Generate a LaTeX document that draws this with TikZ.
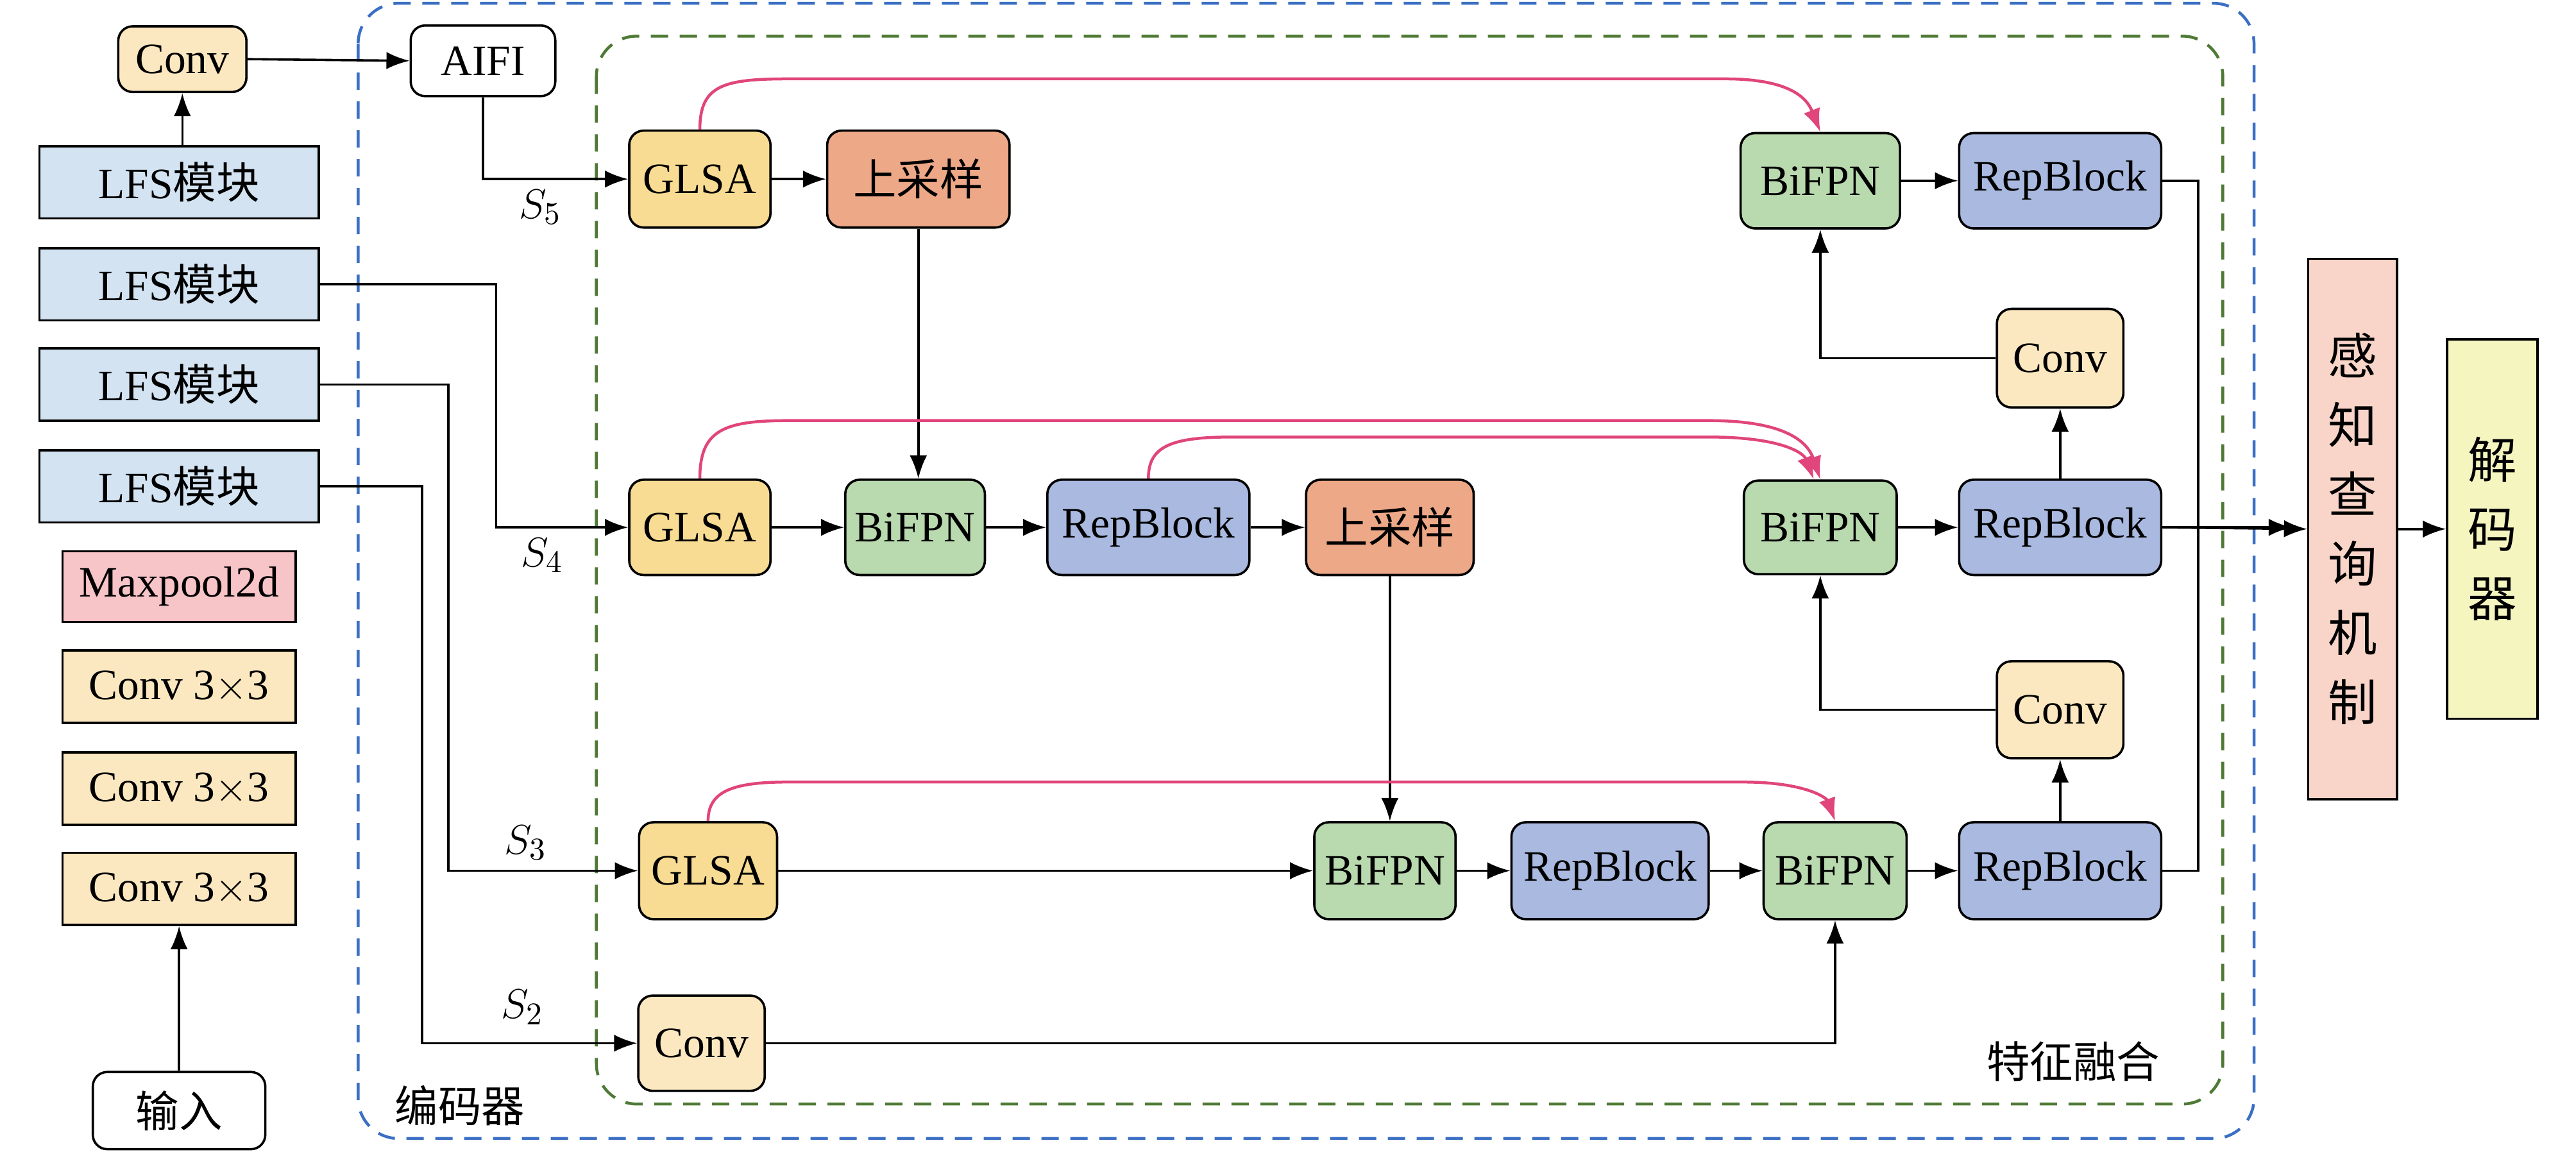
\documentclass[tikz,border=0pt]{standalone}
\usepackage{fontspec}
\setmainfont{Liberation Serif}
\newfontfamily\cjk{Noto Sans CJK SC}
\usetikzlibrary{arrows.meta,calc}
\definecolor{cy}{HTML}{F8DC94}
\definecolor{cly}{HTML}{FCE8C0}
\definecolor{csal}{HTML}{EDA887}
\definecolor{cgr}{HTML}{B9D9AE}
\definecolor{cbl}{HTML}{A9B9E0}
\definecolor{clb}{HTML}{D3E3F1}
\definecolor{cpk}{HTML}{F7C4C8}
\definecolor{cpeach}{HTML}{F8D5C8}
\definecolor{cyl}{HTML}{F5F5C0}
\definecolor{cdblue}{HTML}{3A6FC4}
\definecolor{cdgreen}{HTML}{4F7A35}
\definecolor{cmag}{HTML}{E0457B}
\begin{document}
\begin{tikzpicture}[x=0.02cm,y=-0.02cm,
  font=\fontsize{15}{18}\selectfont,
  box/.style={draw, line width=0.8pt, rounded corners=5pt, inner sep=0pt},
  sq/.style={draw, line width=0.8pt, inner sep=0pt},
  sz/.style n args={2}{minimum width=#1*0.02cm, minimum height=#2*0.02cm},
  ar/.style={line width=0.8pt,-{Latex[length=8pt,width=6pt]}},
  pk/.style={line width=1pt,cmag,-{Latex[length=8pt,width=6pt]}}]
\useasboundingbox (0,0) rectangle (1568,701);
% frames
\draw[cdblue, line width=1pt, dash pattern=on 6pt off 4pt, rounded corners=14pt] (218,2) rectangle (1372,693);
\draw[cdgreen, line width=1pt, dash pattern=on 6pt off 4pt, rounded corners=14pt] (363,22) rectangle (1353,672);
\node at (280,673) {\cjk 编码器};
\node at (1262,646) {\cjk 特征融合};
% left column
\node[box,fill=cly,sz={78}{40}] (c0) at (111,36) {Conv};
\node[sq,fill=clb,sz={170}{44}] (l1) at (109,111) {LFS{\cjk 模块}};
\node[sq,fill=clb,sz={170}{44}] (l2) at (109,173) {LFS{\cjk 模块}};
\node[sq,fill=clb,sz={170}{44}] (l3) at (109,234) {LFS{\cjk 模块}};
\node[sq,fill=clb,sz={170}{44}] (l4) at (109,296) {LFS{\cjk 模块}};
\node[sq,fill=cpk,sz={142}{43}] (mp) at (109,357) {Maxpool2d};
\node[sq,fill=cly,sz={142}{44}] (k1) at (109,418) {Conv 3$\times$3};
\node[sq,fill=cly,sz={142}{44}] (k2) at (109,480) {Conv 3$\times$3};
\node[sq,fill=cly,sz={142}{44}] (k3) at (109,541) {Conv 3$\times$3};
\node[box,fill=white,sz={105}{47}] (in) at (109,676) {\cjk 输入};
\draw[ar] (in.north) -- (k3.south);
\draw[ar] (l1.north -| c0) -- (c0.south);
\node[box,fill=white,sz={88}{43}] (aifi) at (294,37) {AIFI};
\draw[ar] (c0.east) -- (aifi.west);
% main
\node[box,fill=cy,sz={86}{59}] (g1) at (426,109) {GLSA};
\node[box,fill=csal,sz={111}{59}] (u1) at (559,109) {\cjk 上采样};
\node[box,fill=cy,sz={86}{58}] (g2) at (426,321) {GLSA};
\node[box,fill=cgr,sz={85}{58}] (b2) at (557,321) {BiFPN};
\node[box,fill=cbl,sz={123}{58}] (r2) at (699,321) {RepBlock};
\node[box,fill=csal,sz={102}{58}] (u2) at (846,321) {\cjk 上采样};
\node[box,fill=cy,sz={84}{59}] (g3) at (431,530) {GLSA};
\node[box,fill=cgr,sz={86}{59}] (b4) at (843,530) {BiFPN};
\node[box,fill=cbl,sz={120}{59}] (r4) at (980,530) {RepBlock};
\node[box,fill=cgr,sz={87}{59}] (b5) at (1117,530) {BiFPN};
\node[box,fill=cbl,sz={123}{59}] (r5) at (1254,530) {RepBlock};
\node[box,fill=cly,sz={77}{58}] (cb) at (427,635) {Conv};
\node[box,fill=cly,sz={77}{59}] (cl) at (1254,432) {Conv};
\node[box,fill=cgr,sz={93}{57}] (b3) at (1108,321) {BiFPN};
\node[box,fill=cbl,sz={123}{58}] (r3) at (1254,321) {RepBlock};
\node[box,fill=cly,sz={77}{60}] (cm) at (1254,218) {Conv};
\node[box,fill=cgr,sz={97}{58}] (b1) at (1108,110) {BiFPN};
\node[box,fill=cbl,sz={123}{58}] (r1) at (1254,110) {RepBlock};
\node[sq,fill=cpeach,sz={54}{329},align=center,font=\fontsize{17}{24}\selectfont\cjk] (pq) at (1432,322) {感\\知\\查\\询\\机\\制};
\node[sq,fill=cyl,sz={55}{231},align=center,font=\fontsize{17}{24}\selectfont\cjk] (dec) at (1517,322) {解\\码\\器};
% connectors
\draw[ar] (aifi.south) |- (g1.west);
\node at (329,126) {$S_5$};
\draw[ar] (g1) -- (u1);
\draw[ar] (u1.south) -- (b2.north -| u1);
\draw[ar] (l2.east) -- (302,173) |- (g2.west);
\node at (330,338) {$S_4$};
\draw[ar] (g2) -- (b2);
\draw[ar] (b2) -- (r2);
\draw[ar] (r2) -- (u2);
\draw[ar] (u2.south) -- (b4.north -| u2.south);
\draw[ar] (l3.east) -- (273,234) |- (g3.west);
\node at (320,513) {$S_3$};
\draw[ar] (g3) -- (b4);
\draw[ar] (b4) -- (r4);
\draw[ar] (r4) -- (b5);
\draw[ar] (b5) -- (r5);
\draw[ar] (l4.east) -- (257,296) |- (cb.west);
\node at (318,613) {$S_2$};
\draw[ar] (cb.east) -| (b5.south);
\draw[ar] (r5.north) -- (cl.south);
\draw[ar] (cl.west) -| (b3.south);
\draw[ar] (b3) -- (r3);
\draw[ar] (r3.north) -- (cm.south);
\draw[ar] (cm.west) -| (b1.south);
\draw[ar] (b1) -- (r1);
\draw[line width=0.8pt] (r1.east) -- (1338,110) -- (1338,321);
\draw[line width=0.8pt] (r5.east) -- (1338,530) -- (1338,321);
\draw[ar] (r3.east) -- (1395,321);
\draw[ar] (r3.east) -- (pq.west);
\draw[ar] (pq.east) -- (dec.west);
% pink skip arrows
\draw[pk] (g1.north) .. controls (426,52) and (440,48) .. (480,48) -- (1050,48) .. controls (1090,48) and (1100,60) .. (b1.north);
\draw[pk] (g2.north) .. controls (426,262) and (440,256) .. (480,256) -- (1040,256) .. controls (1085,256) and (1100,268) .. (b3.north);
\draw[pk] (r2.north) .. controls (699,272) and (712,266) .. (750,266) -- (1040,266) .. controls (1085,266) and (1098,276) .. ($(b3.north)+(-4,0)$);
\draw[pk] (g3.north) .. controls (431,482) and (445,476) .. (480,476) -- (1060,476) .. controls (1100,476) and (1112,486) .. (b5.north);
\end{tikzpicture}
\end{document}
